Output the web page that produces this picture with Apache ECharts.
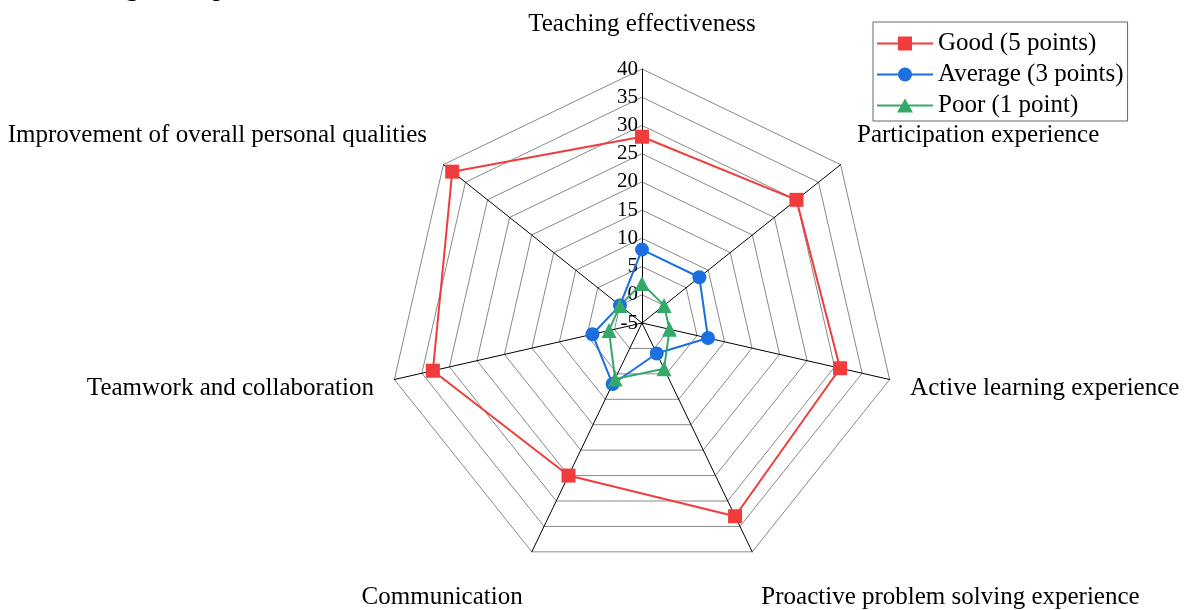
<!DOCTYPE html>
<html>
<head>
<meta charset="utf-8">
<script src="https://cdn.jsdelivr.net/npm/echarts@6/dist/echarts.min.js"></script>
<style>
  html, body { margin: 0; padding: 0; background: #fff; }
  #chart { width: 1186px; height: 610px; }
</style>
</head>
<body>
<div id="chart"></div>
<script>
// Categories in clockwise order starting at the top
const categories = [
  'Teaching effectiveness',
  'Participation experience',
  'Active learning experience',
  'Proactive problem solving experience',
  'Communication',
  'Teamwork and collaboration',
  'Improvement of overall personal qualities'
];
const seriesNames = ['Good (5 points)', 'Average (3 points)', 'Poor (1 point)'];
const goodValues    = [28, 30, 31, 33, 25, 33, 38];
const averageValues = [8, 8, 7, 1, 7, 4, 0];
const poorValues    = [2, 0, 0, 4, 6, 1, 0];
const axisMin = -5;
const axisMax = 40;
const axisStep = 5;
const titleText = 'al learning atmosphere and team collaboration?';

const FONT = '"Liberation Serif", "Times New Roman", serif';

// ECharts lays indicators counter-clockwise; reorder to get clockwise layout
const order = [0, 6, 5, 4, 3, 2, 1];
const reorder = arr => order.map(i => arr[i]);

// label shift styles (visual offsets per indicator position)
const shiftKey = ['top', 'up', 'n', 'down', 'down', 'n', 'up'];

const chart = echarts.init(document.getElementById('chart'));
const indicator = order.map((i, k) => ({
  name: categories[i],
  min: axisMin,
  max: axisMax,
  axisLabel: { show: k === 0 }
}));

const colors = ['#f03c3c', '#1b6fe0', '#34a96a'];
const symbols = ['rect', 'circle', 'triangle'];
const legendIcons = [
  'path://M0 7H56V9H0Z M21 1H35V15H21Z',
  'path://M0 7H56V9H0Z M35 8A7 7 0 1 1 21 8A7 7 0 1 1 35 8Z',
  'path://M0 7H56V9H0Z M28 1L36 15H20Z'
];
const valueSets = [goodValues, averageValues, poorValues];

chart.setOption({
  animation: false,
  textStyle: { fontFamily: FONT },
  graphic: [{
    type: 'text',
    left: 20,
    top: -26,
    style: { text: titleText, font: '28px ' + FONT, fill: '#000' }
  }],
  legend: {
    orient: 'vertical',
    left: 873,
    top: 22,
    padding: [9, 4, 3, 4],
    itemGap: 6,
    itemWidth: 56,
    itemHeight: 16,
    borderColor: '#666',
    borderWidth: 1,
    textStyle: { fontFamily: FONT, fontSize: 25, color: '#000', padding: [0, 0, 0, 0] },
    data: seriesNames.map((n, s) => ({ name: n, icon: legendIcons[s] }))
  },
  radar: {
    center: [642, 323],
    radius: 254,
    startAngle: 90,
    splitNumber: (axisMax - axisMin) / axisStep,
    shape: 'polygon',
    indicator: indicator,
    nameGap: 21,
    axisName: {
      color: '#000',
      fontFamily: FONT,
      fontSize: 25,
      formatter: function (name) {
        const idx = categories.indexOf(name);
        return '{' + shiftKey[idx] + '|' + name + '}';
      },
      rich: {
        top: { fontFamily: FONT, fontSize: 25, color: '#000', padding: [0, 0, 11, 0] },
        up: { fontFamily: FONT, fontSize: 25, color: '#000', padding: [0, 0, 32, 0] },
        down: { fontFamily: FONT, fontSize: 25, color: '#000', padding: [54, 0, 0, 0] },
        n: { fontFamily: FONT, fontSize: 25, color: '#000', padding: [8, 0, 0, 0] }
      }
    },
    axisLine: { lineStyle: { color: '#000', width: 1 } },
    splitLine: { lineStyle: { color: '#888', width: 1 } },
    splitArea: { show: false },
    axisTick: { show: false },
    axisLabel: {
      fontFamily: FONT,
      fontSize: 21,
      color: '#000',
      margin: 4
    }
  },
  series: [{
    type: 'radar',
    data: valueSets.map((vals, s) => ({
      name: seriesNames[s],
      value: reorder(vals),
      symbol: symbols[s],
      symbolSize: s === 2 ? 15 : 14,
      lineStyle: { color: colors[s], width: 2 },
      itemStyle: { color: colors[s] }
    }))
  }]
});
</script>
</body>
</html>
